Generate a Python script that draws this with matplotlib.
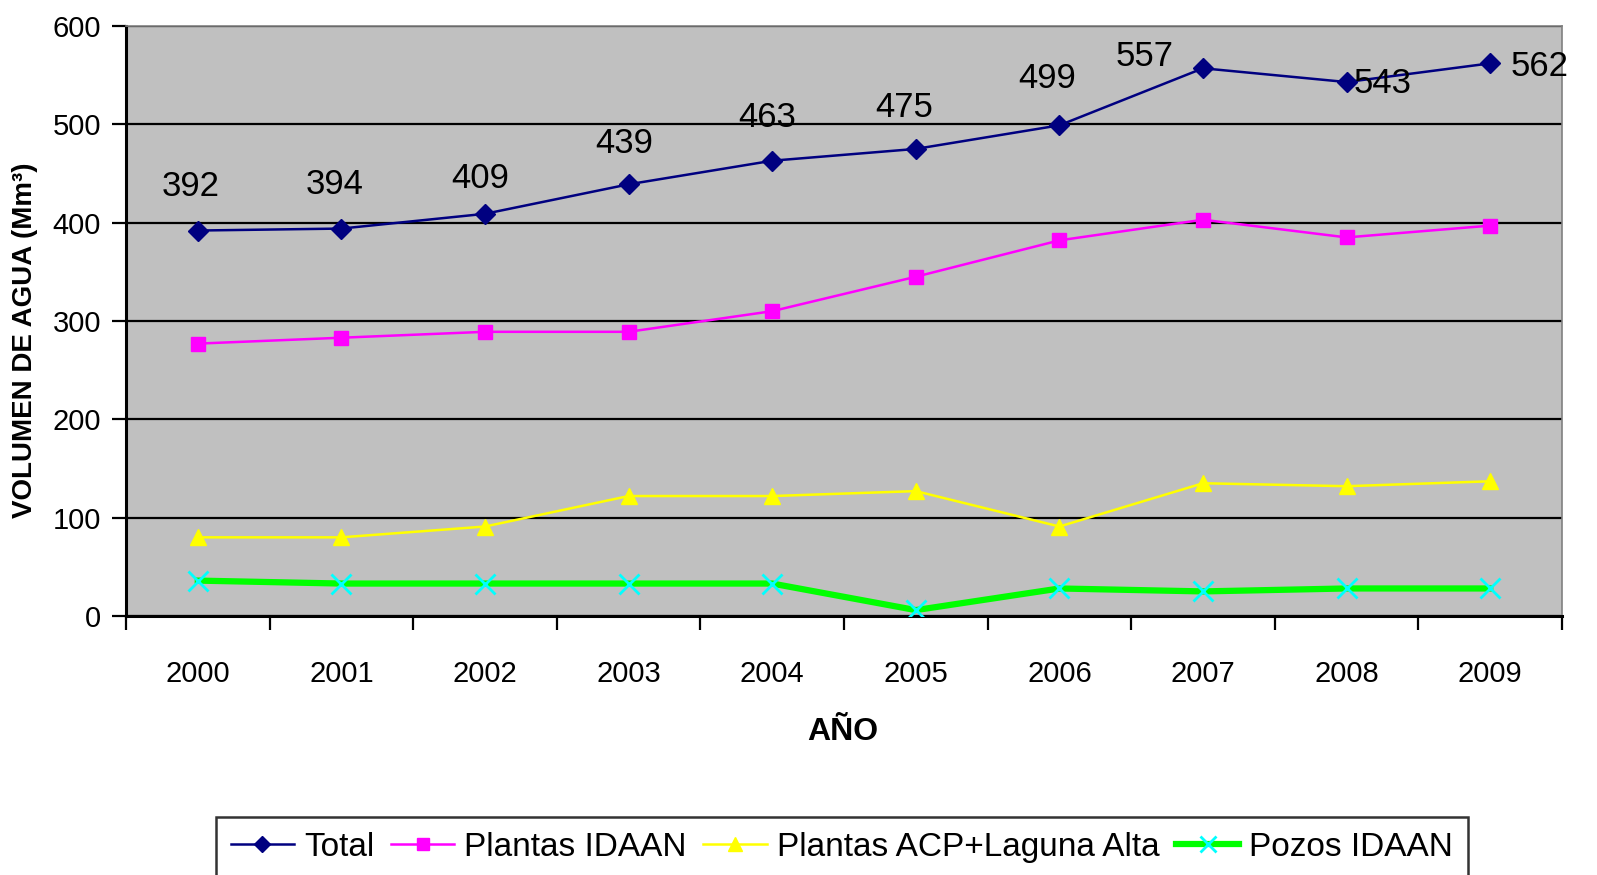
import matplotlib
matplotlib.use('Agg')
import matplotlib.pyplot as plt
import numpy as np

years = ['2000', '2001', '2002', '2003', '2004', '2005', '2006', '2007', '2008', '2009']
total = [392, 394, 409, 439, 463, 475, 499, 557, 543, 562]
plantas_idaan = [277, 283, 289, 289, 310, 345, 382, 403, 385, 397]
plantas_acp = [80, 80, 91, 122, 122, 127, 91, 135, 132, 137]
pozos_idaan = [36, 33, 33, 33, 33, 6, 28, 25, 28, 28]

# label offsets for the total values, in pixels
label_offsets = [(-7, 44), (-7, 44), (-5, 35), (-4, 41), (-5, 43),
                 (-12, 41), (-12, 47), (-58, 12), (36, -1), (49, -3)]

plt.rcParams['font.family'] = ['Liberation Sans', 'DejaVu Sans']

fig = plt.figure(figsize=(15.97, 8.75), dpi=100)
ax = fig.add_axes([126 / 1597, 1 - 616 / 875, (1562 - 126) / 1597, (616 - 26) / 875])
ax.set_facecolor('#C0C0C0')

x = np.arange(len(years))

ax.plot(x, total, color='#000080', lw=1.8, marker='D', ms=10, label='Total', zorder=5)
ax.plot(x, plantas_idaan, color='#FF00FF', lw=1.8, marker='s', ms=10, label='Plantas IDAAN', zorder=4)
ax.plot(x, plantas_acp, color='#FFFF00', lw=1.8, marker='^', ms=12, label='Plantas ACP+Laguna Alta', zorder=4)
ax.plot(x, pozos_idaan, color='#00FF00', lw=4.5, marker='x', ms=15, mew=2,
        mec='#00FFFF', label='Pozos IDAAN', zorder=4)

for i, v in enumerate(total):
    ax.annotate(str(v), (x[i], v), xytext=label_offsets[i], textcoords='offset pixels',
                ha='center', va='center', fontsize=25, zorder=6)

ax.set_xlim(-0.5, len(years) - 0.5)
ax.set_ylim(0, 600)
ax.set_yticks(np.arange(0, 601, 100))
ax.yaxis.grid(True, color='black', lw=1.6)
ax.set_axisbelow(True)

ax.set_xticks(np.arange(-0.5, len(years), 1))
ax.set_xticklabels([])
ax.set_xticks(x, minor=True)
ax.set_xticklabels(years, minor=True)
ax.tick_params(axis='x', which='major', length=10, width=1.6, direction='out')
ax.tick_params(axis='x', which='minor', length=0, pad=32, labelsize=21)
ax.tick_params(axis='y', length=10, width=1.6, direction='out', labelsize=21, pad=8)

for side in ['left', 'bottom']:
    ax.spines[side].set_color('black')
    ax.spines[side].set_linewidth(2.2)
for side in ['top', 'right']:
    ax.spines[side].set_color('#808080')
    ax.spines[side].set_linewidth(1.2)

fig.text(843 / 1597, 1 - 732 / 875, 'AÑO', ha='center', va='center', fontsize=23, fontweight='bold')
fig.text(25 / 1597, 1 - 518 / 875, 'VOLUMEN DE AGUA (Mm³)', rotation=90, ha='center', va='bottom',
         fontsize=20, fontweight='bold')

leg = fig.legend(loc='upper center', bbox_to_anchor=(842 / 1597, 1 - 800 / 875), ncol=4,
                 fontsize=24, frameon=True, fancybox=False, edgecolor='black',
                 handlelength=1.9, handletextpad=0.3, columnspacing=0.5, borderpad=0.45,
                 markerscale=0.8)
leg.get_frame().set_linewidth(1.8)

fig.savefig('out.png', dpi=100, facecolor='white')
